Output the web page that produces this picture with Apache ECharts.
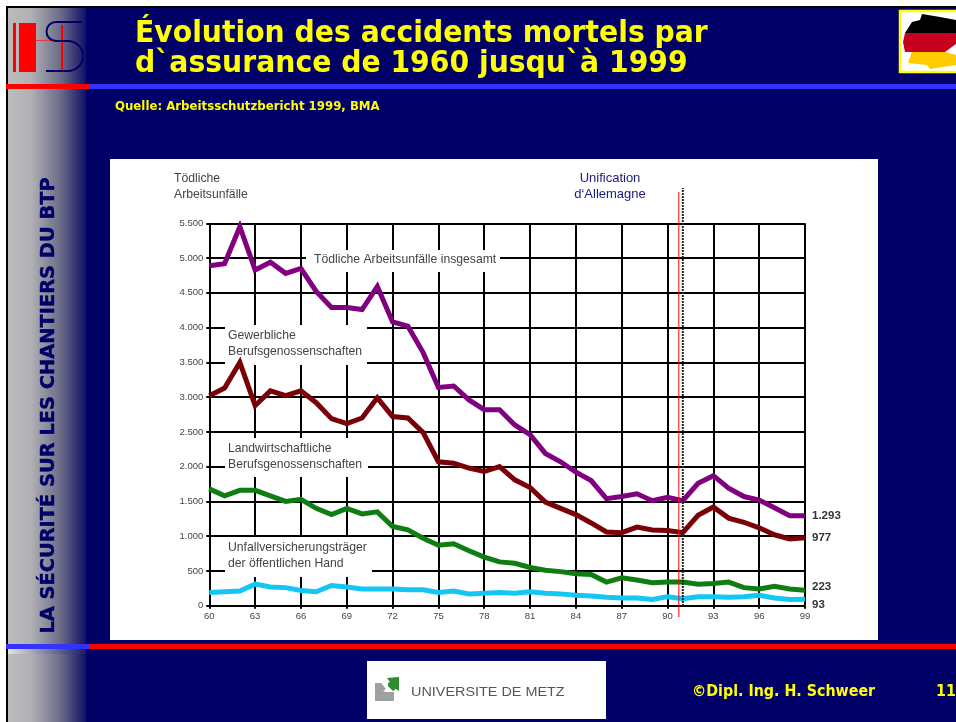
<!DOCTYPE html>
<html>
<head>
<meta charset="utf-8">
<title>Accidents mortels</title>
<script src="https://cdn.jsdelivr.net/npm/echarts@6/dist/echarts.min.js"></script>
<style>
html, body { margin: 0; padding: 0; background: #fff; }
#main { width: 956px; height: 722px; }
</style>
</head>
<body>
<div id="main"></div>
<script>
// annees 1960 - 1999
var years = [60,61,62,63,64,65,66,67,68,69,70,71,72,73,74,75,76,77,78,79,80,81,82,83,84,85,86,87,88,89,90,91,92,93,94,95,96,97,98,99];
var insgesamt = [4890,4920,5450,4830,4940,4780,4850,4520,4290,4290,4260,4590,4080,4020,3640,3140,3160,2960,2820,2820,2600,2460,2190,2070,1920,1800,1540,1570,1610,1510,1560,1510,1760,1870,1690,1570,1520,1410,1295,1293];
var gewerbliche = [3020,3130,3500,2880,3090,3020,3090,2920,2690,2620,2700,2990,2720,2700,2490,2070,2050,1980,1930,2000,1810,1700,1490,1400,1310,1190,1060,1050,1130,1090,1080,1050,1300,1420,1260,1200,1120,1020,960,977];
var landwirtschaft = [1680,1580,1660,1660,1580,1500,1530,1400,1310,1400,1320,1350,1140,1090,970,870,890,790,700,630,610,550,510,490,460,450,340,400,370,330,340,340,310,320,340,260,240,280,240,223];
var oeffentlich = [190,200,210,310,270,260,220,200,290,270,240,240,240,230,230,190,210,170,180,190,180,200,180,170,150,140,120,110,110,90,130,100,130,130,120,130,150,110,90,93];
var endLabels = ['1.293','977','223','93'];
var unificationBlack = [[91, 0], [91, 6008]];
var unificationRed = [[90.74, -158], [90.74, 5950]];
var titleLines = 'Évolution des accidents mortels par\nd`assurance de 1960 jusqu`à 1999';

var navy = '#000066';
var yellow = '#ffff00';
var txtFont = '"Liberation Sans", Arial, sans-serif';
var slideFont = '"DejaVu Sans", Verdana, sans-serif';

function pairs(values) {
	return values.map(function (v, i) { return [years[i], v]; });
}
function lineSerie(name, color, values, label, dy) {
	return {
		name: name,
		type: 'line',
		data: pairs(values),
		symbol: 'none',
		z: 3,
		clip: false,
		lineStyle: { color: color, width: 5, join: 'miter' },
		endLabel: {
			show: true,
			formatter: label,
			color: '#333',
			fontFamily: txtFont,
			fontWeight: 'bold',
			fontSize: 11.5,
			distance: 7,
			offset: [0, dy]
		}
	};
}
function markerSerie(data, color, width, type, z) {
	return {
		type: 'line',
		xAxisIndex: 1,
		yAxisIndex: 1,
		data: data,
		symbol: 'none',
		silent: true,
		z: z,
		lineStyle: { color: color, width: width, type: type }
	};
}
function box(x, y, w, h, fill, z) {
	return { type: 'rect', z: z, silent: true, shape: { x: x, y: y, width: w, height: h }, style: { fill: fill } };
}
function poly(points, fill) {
	return { type: 'polygon', z: -3, silent: true, shape: { points: points }, style: { fill: fill } };
}
function logoS(el, shape) {
	el.z = -4;
	el.silent = true;
	el.shape = shape;
	el.style = { fill: 'none', stroke: navy, lineWidth: 2 };
	return el;
}
function chartText(x, y, text, color) {
	return { type: 'text', z: 4, silent: true, x: x, y: y, style: { text: text, fill: color || '#444', font: '12.2px ' + txtFont, lineHeight: 16.5 } };
}

var option = {
	animation: false,
	backgroundColor: navy,
	grid: [
		{ left: 209.3, right: 151, top: 223.3, bottom: 116.3, containLabel: false },
		// meme echelle en x, plus haute pour les deux traits de la reunification
		{ left: 209.3, right: 151, top: 188, bottom: 105, containLabel: false }
	],
	xAxis: [{
		type: 'value',
		min: 60,
		max: 99,
		interval: 3,
		axisLine: { show: false },
		axisTick: { show: true, length: 3, lineStyle: { color: '#000', width: 2 } },
		axisLabel: { color: '#444', fontFamily: txtFont, fontSize: 9.5, margin: 6, showMaxLabel: true },
		splitLine: { show: true, lineStyle: { color: '#000', width: 2 } }
	}, {
		type: 'value', gridIndex: 1, min: 60, max: 99, show: false
	}],
	yAxis: [{
		type: 'value',
		min: 0,
		max: 5500,
		interval: 500,
		axisLine: { show: false },
		axisTick: { show: true, length: 3, lineStyle: { color: '#000', width: 2 } },
		axisLabel: {
			color: '#444', fontFamily: txtFont, fontSize: 9.5, margin: 6,
			formatter: function (v) { return v >= 1000 ? Math.floor(v / 1000) + '.' + ('00' + (v % 1000)).slice(-3) : '' + v; }
		},
		splitLine: { show: true, lineStyle: { color: '#000', width: 2 } }
	}, {
		type: 'value', gridIndex: 1, min: -158, max: 6008, show: false
	}],
	series: [
		lineSerie('Tödliche Arbeitsunfälle insgesamt', '#800080', insgesamt, endLabels[0], 0),
		lineSerie('Gewerbliche Berufsgenossenschaften', '#7a0008', gewerbliche, endLabels[1], 0),
		lineSerie('Landwirtschaftliche Berufsgenossenschaften', '#0f7d12', landwirtschaft, endLabels[2], -3),
		lineSerie('Unfallversicherungsträger der öffentlichen Hand', '#14c6f4', oeffentlich, endLabels[3], 6),
		markerSerie(unificationBlack, '#222', 2, [2, 1], 5),
		markerSerie(unificationRed, '#ff0000', 1, 'solid', 6)
	],
	graphic: [
		// fond de la diapo
		box(0, 0, 956, 722, '#fff', -10),
		box(6, 6, 950, 716, '#000', -9),
		box(8, 8, 948, 714, navy, -8),
		box(8, 8, 78, 714, new echarts.graphic.LinearGradient(0, 0, 1, 0, [
			{ offset: 0, color: '#bcbcbc' }, { offset: 0.3, color: '#b0b0b4' }, { offset: 0.68, color: '#6a6a88' }, { offset: 1, color: '#101068' }
		]), -7),
		box(8, 649, 78, 5, new echarts.graphic.LinearGradient(0, 0, 1, 0, [
			{ offset: 0, color: '#e4e4e4' }, { offset: 1, color: '#1a1a6a' }
		]), -7),
		box(6, 84, 83, 5, '#ff0000', -6),
		box(89, 84, 867, 5, '#3333ff', -6),
		box(6, 644, 83, 5, '#3333ff', -6),
		box(89, 644, 867, 5, '#ff0000', -6),
		// panneau blanc
		box(110, 159, 768, 481, '#fff', -5),
		// logo HS
		box(13, 23, 3, 49, '#ff0000', -4),
		box(19, 23, 17, 49, '#ff0000', -4),
		box(36, 40, 26, 1, '#ff3030', -4),
		box(61, 25, 2, 45, '#ff0000', -4),
		logoS({ type: 'line' }, { x1: 56, y1: 22, x2: 82, y2: 22 }),
		logoS({ type: 'arc' }, { cx: 56, cy: 31.5, r: 9.5, startAngle: Math.PI / 2, endAngle: Math.PI * 1.5 }),
		logoS({ type: 'line' }, { x1: 56, y1: 41, x2: 68, y2: 41 }),
		logoS({ type: 'arc' }, { cx: 68, cy: 56, r: 15, startAngle: -Math.PI / 2, endAngle: Math.PI / 2 }),
		logoS({ type: 'line' }, { x1: 46, y1: 71, x2: 68, y2: 71 }),
		// masques blancs derriere les libelles
		box(306, 250, 194, 22, '#fff', 1),
		box(225, 325, 142, 40, '#fff', 1),
		box(225, 438, 143, 39, '#fff', 1),
		box(225, 537, 147, 40, '#fff', 1),
		// libelles du graphique
		chartText(174, 170, 'Tödliche\nArbeitsunfälle'),
		chartText(314, 251, 'Tödliche Arbeitsunfälle insgesamt'),
		chartText(228, 327, 'Gewerbliche\nBerufsgenossenschaften'),
		chartText(228, 440, 'Landwirtschaftliche\nBerufsgenossenschaften'),
		chartText(228, 539, 'Unfallversicherungsträger\nder öffentlichen Hand'),
		{ type: 'text', z: 4, silent: true, x: 610, y: 170, style: { text: 'Unification\nd\u2018Allemagne', fill: '#1a1a80', font: '13px ' + txtFont, lineHeight: 16.5, align: 'center' } },
		// titres
		{ type: 'text', z: 4, silent: true, x: 135, y: 19, scaleX: 0.912, style: { text: titleLines, fill: yellow, font: 'bold 31px ' + slideFont, lineHeight: 29.7 } },
		{ type: 'text', z: 4, silent: true, x: 115, y: 101, scaleX: 0.98, style: { text: 'Quelle: Arbeitsschutzbericht 1999, BMA', fill: yellow, font: 'bold 12px ' + slideFont } },
		{ type: 'text', z: 4, silent: true, x: 49, y: 405.5, rotation: Math.PI / 2, style: { text: 'LA SÉCURITÉ SUR LES CHANTIERS DU BTP', fill: navy, stroke: navy, lineWidth: 0.4, font: 'bold 19.4px ' + slideFont, align: 'center', verticalAlign: 'middle' } },
		// drapeau
		{ type: 'rect', z: -4, silent: true, shape: { x: 900, y: 11, width: 58, height: 61 }, style: { fill: '#fff', stroke: yellow, lineWidth: 2.5 } },
		poly([[922, 14], [940, 17], [956, 20], [956, 33], [905, 33], [912, 22], [920, 20]], '#000'),
		poly([[905, 33], [956, 33], [956, 44], [945, 52], [905, 52], [903, 42]], '#c80020'),
		poly([[912, 52], [945, 52], [956, 55], [956, 65], [930, 69], [927, 65], [908, 63]], '#ffcc00'),
		// pied de page
		box(367, 661, 239, 58, '#fff', -4),
		poly([[375, 683], [381, 683], [386, 689], [383, 691], [386, 692], [394, 692], [394, 701], [375, 701]], '#a0a0a0'),
		poly([[388, 683], [390, 682], [387, 678], [399, 677], [399, 691], [396, 689], [393, 691], [388, 686]], '#2e8b2e'),
		{ type: 'text', z: 4, silent: true, x: 411, y: 687, scaleX: 1.2, style: { text: 'UNIVERSITE DE METZ', fill: '#555', font: '12px ' + txtFont } },
		{ type: 'text', z: 4, silent: true, x: 692, y: 685, scaleX: 0.95, style: { text: '©Dipl. Ing. H. Schweer', fill: yellow, font: 'bold 15px ' + slideFont } },
		{ type: 'text', z: 4, silent: true, x: 936, y: 685, scaleX: 0.95, style: { text: '11', fill: yellow, font: 'bold 15px ' + slideFont } }
	]
};
var chart = echarts.init(document.getElementById('main'), null, { renderer: 'canvas' });
chart.setOption(option);
</script>
</body>
</html>
